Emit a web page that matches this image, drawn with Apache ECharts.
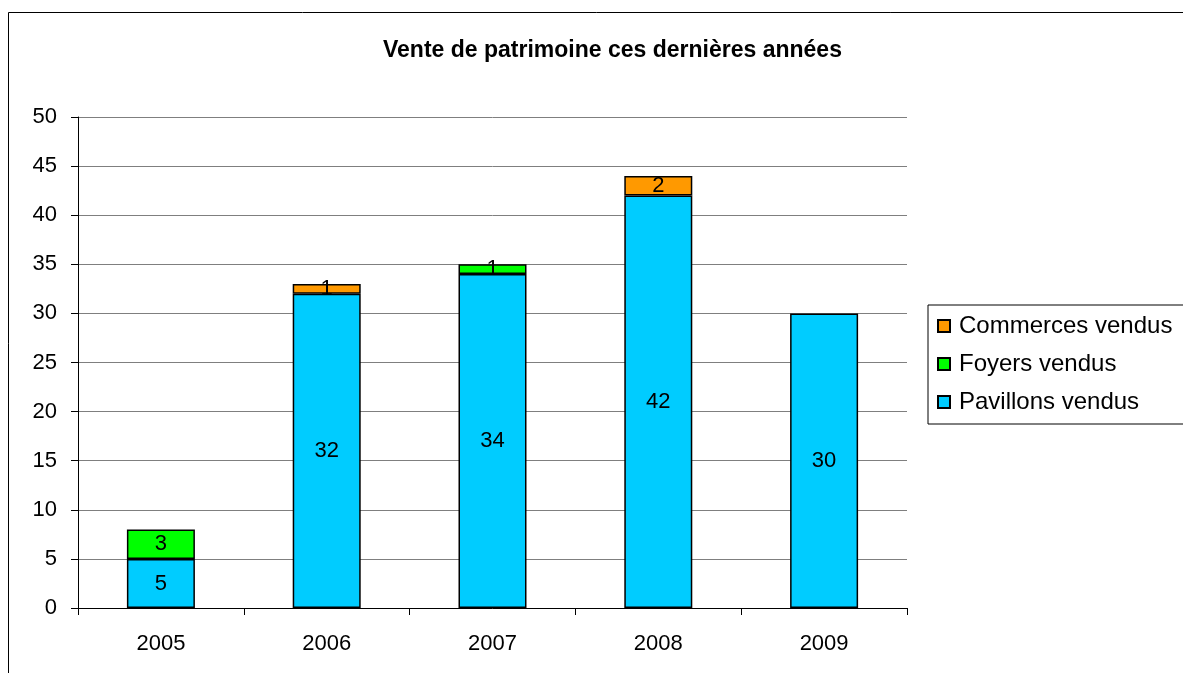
<!DOCTYPE html>
<html>
<head>
<meta charset="utf-8">
<script src="https://cdn.jsdelivr.net/npm/echarts@6/dist/echarts.min.js"></script>
<style>
  html, body { margin: 0; padding: 0; background: #fff; }
  #chart { width: 1183px; height: 673px; }
</style>
</head>
<body>
<div id="chart"></div>
<script>
var years = ['2005', '2006', '2007', '2008', '2009'];
var pavillons = [5, 32, 34, 42, 30];
var foyers = [3, 0, 1, 0, 0];
var commerces = [0, 1, 0, 2, 0];
var yTicks = { min: 0, max: 50, interval: 5 };

var font = 'Liberation Sans, Arial, sans-serif';

// les zéros ne sont pas dessinés
function noZero(arr) {
    return arr.map(function (v) { return v === 0 ? '-' : v; });
}

function bar(name, data, color) {
    return {
        name: name,
        type: 'bar',
        stack: 'total',
        barWidth: 68,
        data: noZero(data),
        itemStyle: { color: color, borderColor: '#000', borderWidth: 1.5 },
        label: {
            show: true,
            position: 'inside',
            color: '#000',
            fontSize: 22,
            fontFamily: font
        },
        emphasis: { disabled: true }
    };
}

var myChart = echarts.init(document.getElementById('chart'));
var option = {
    animation: false,
    backgroundColor: '#fff',
    title: {
        text: 'Vente de patrimoine ces dernières années',
        left: 378,
        top: 34,
        textStyle: { fontSize: 23, fontWeight: 'bold', color: '#000', fontFamily: font }
    },
    legend: {
        orient: 'vertical',
        left: 928,
        top: 305,
        padding: [8, 40, 9, 9],
        itemGap: 12,
        itemWidth: 12,
        itemHeight: 12,
        borderColor: '#000',
        borderWidth: 1,
        icon: 'rect',
        data: ['Commerces vendus', 'Foyers vendus', 'Pavillons vendus'],
        textStyle: { fontSize: 24, lineHeight: 26, color: '#000', fontFamily: font, padding: [0, 0, 0, 4] }
    },
    grid: { left: 78, right: 276, top: 117, bottom: 65, containLabel: false },
    xAxis: {
        type: 'category',
        data: years,
        axisLine: { lineStyle: { color: '#000', width: 1 } },
        axisTick: { show: true, length: 7, lineStyle: { color: '#000' } },
        axisLabel: { fontSize: 22, color: '#000', margin: 25, fontFamily: font }
    },
    yAxis: {
        type: 'value',
        min: yTicks.min,
        max: yTicks.max,
        interval: yTicks.interval,
        axisLine: { show: true, lineStyle: { color: '#000', width: 1 } },
        axisTick: { show: true, length: 7, lineStyle: { color: '#000' } },
        axisLabel: { fontSize: 22, color: '#000', margin: 21, fontFamily: font },
        splitLine: { lineStyle: { color: '#7f7f7f', width: 1 } }
    },
    series: [
        bar('Pavillons vendus', pavillons, '#00ccff'),
        bar('Foyers vendus', foyers, '#00ff00'),
        bar('Commerces vendus', commerces, '#ff9900')
    ],
    graphic: [{
        type: 'rect',
        shape: { x: 8.5, y: 12.5, width: 1300, height: 800 },
        style: { fill: null, stroke: '#000', lineWidth: 1 },
        silent: true,
        z: -1
    }]
};
myChart.setOption(option);
</script>
</body>
</html>
